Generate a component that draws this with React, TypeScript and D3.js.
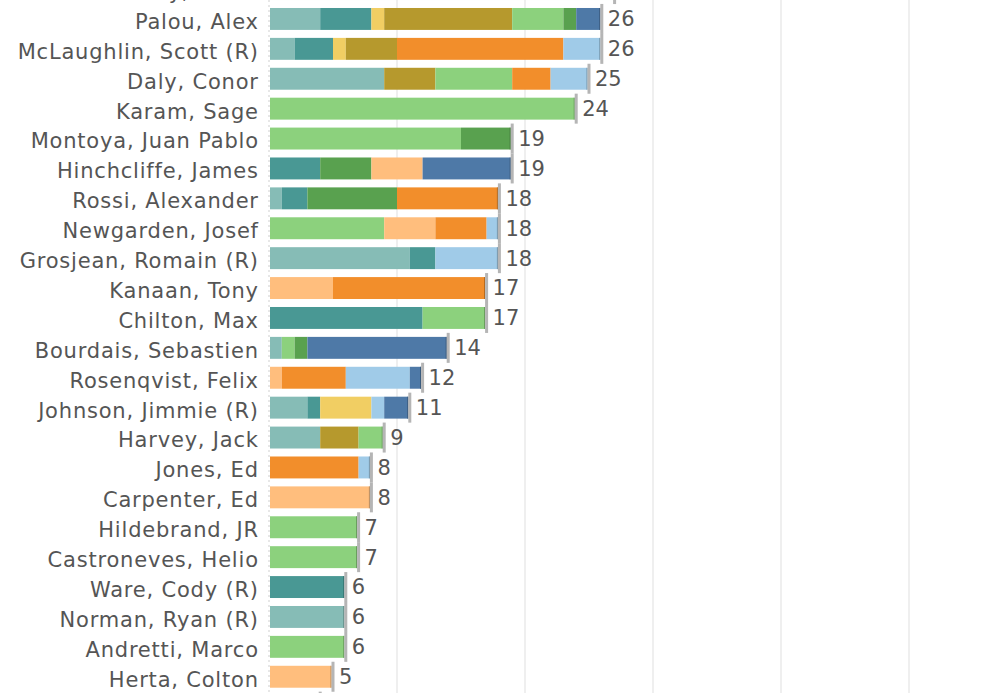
import React from "react";
import * as d3 from "d3";

const drivers = [
  "VeeKay, Rinus",
  "Palou, Alex",
  "McLaughlin, Scott (R)",
  "Daly, Conor",
  "Karam, Sage",
  "Montoya, Juan Pablo",
  "Hinchcliffe, James",
  "Rossi, Alexander",
  "Newgarden, Josef",
  "Grosjean, Romain (R)",
  "Kanaan, Tony",
  "Chilton, Max",
  "Bourdais, Sebastien",
  "Rosenqvist, Felix",
  "Johnson, Jimmie (R)",
  "Harvey, Jack",
  "Jones, Ed",
  "Carpenter, Ed",
  "Hildebrand, JR",
  "Castroneves, Helio",
  "Ware, Cody (R)",
  "Norman, Ryan (R)",
  "Andretti, Marco",
  "Herta, Colton",
  "Kellett, Dalton",
];

// one array per stacked series, aligned with drivers
const s1 = [0, 4, 2, 9, 0, 0, 0, 1, 0, 11, 0, 0, 1, 0, 3, 4, 0, 0, 0, 0, 0, 6, 0, 0, 0];
const s2 = [0, 4, 3, 0, 0, 0, 4, 2, 0, 2, 0, 12, 0, 0, 1, 0, 0, 0, 0, 0, 6, 0, 0, 0, 0];
const s3 = [0, 1, 1, 0, 0, 0, 0, 0, 0, 0, 0, 0, 0, 0, 4, 0, 0, 0, 0, 0, 0, 0, 0, 0, 0];
const s4 = [0, 10, 4, 4, 0, 0, 0, 0, 0, 0, 0, 0, 0, 0, 0, 3, 0, 0, 0, 0, 0, 0, 0, 0, 0];
const s5 = [27, 4, 0, 6, 24, 15, 0, 0, 9, 0, 0, 5, 1, 0, 0, 2, 0, 0, 7, 7, 0, 0, 6, 0, 0];
const s6 = [0, 1, 0, 0, 0, 4, 4, 7, 0, 0, 0, 0, 1, 0, 0, 0, 0, 0, 0, 0, 0, 0, 0, 0, 0];
const s7 = [0, 0, 0, 0, 0, 0, 4, 0, 4, 0, 5, 0, 0, 1, 0, 0, 0, 8, 0, 0, 0, 0, 0, 5, 4];
const s8 = [0, 0, 13, 3, 0, 0, 0, 8, 4, 0, 12, 0, 0, 5, 0, 0, 7, 0, 0, 0, 0, 0, 0, 0, 0];
const s9 = [0, 0, 3, 3, 0, 0, 0, 0, 1, 5, 0, 0, 0, 5, 1, 0, 1, 0, 0, 0, 0, 0, 0, 0, 0];
const s10 = [0, 2, 0, 0, 0, 0, 7, 0, 0, 0, 0, 0, 11, 1, 2, 0, 0, 0, 0, 0, 0, 0, 0, 0, 0];

const seriesKeys = ["s1", "s2", "s3", "s4", "s5", "s6", "s7", "s8", "s9", "s10"];
const seriesValues = [s1, s2, s3, s4, s5, s6, s7, s8, s9, s10];
const seriesColors = [
  "#86BCB6",
  "#499894",
  "#F1CE63",
  "#B6992D",
  "#8CD17D",
  "#59A14F",
  "#FFBE7D",
  "#F28E2B",
  "#A0CBE8",
  "#4E79A7",
];
const gridTicks = [10, 20, 30, 40, 50, 60];

const W = 987;
const H = 693;

export default function App() {
  const rows = drivers.map((d, i) => {
    const r: any = { driver: d };
    seriesKeys.forEach((k, j) => (r[k] = seriesValues[j][i]));
    r.total = seriesValues.reduce((a, arr) => a + arr[i], 0);
    return r;
  });

  const step = 29.9;
  const x = d3.scaleLinear().domain([0, 50]).range([269, 909]);
  const y = d3
    .scaleBand<string>()
    .domain(drivers)
    .range([-25.9, -25.9 + step * drivers.length])
    .paddingInner(8 / 30)
    .paddingOuter(4 / 30);
  const color = d3.scaleOrdinal<string, string>().domain(seriesKeys).range(seriesColors);
  const stack = d3.stack<any>().keys(seriesKeys);
  const layers = stack(rows);
  const bw = y.bandwidth();

  const lastKey = (r: any) => {
    let k = seriesKeys[0];
    seriesKeys.forEach((kk) => {
      if (r[kk] > 0) k = kk;
    });
    return k;
  };

  const fontFamily = "'DejaVu Sans', sans-serif";

  return (
    <div style={{ position: "fixed", left: 0, top: 0, width: W, height: H, background: "#fff" }}>
      <svg width={W} height={H} style={{ display: "block" }}>
        <rect width={W} height={H} fill="#fff" />
        {gridTicks.map((t) => (
          <line key={t} x1={x(t)} x2={x(t)} y1={0} y2={H} stroke="#efefef" strokeWidth={2} />
        ))}
        <line x1={x(0)} x2={x(0)} y1={0} y2={H} stroke="#cfcfcf" strokeWidth={1} strokeDasharray="2,3" />
        {layers.map((layer) => (
          <g key={layer.key} fill={color(layer.key)}>
            {layer.map((seg, i) => {
              const w = x(seg[1]) - x(seg[0]);
              if (w <= 0) return null;
              const isLast = lastKey(rows[i]) === layer.key;
              return (
                <rect
                  key={i}
                  x={x(seg[0]) + (seg[0] === 0 ? 1 : 0)}
                  y={y(rows[i].driver)}
                  width={w - (isLast ? 1.5 : 0) - (seg[0] === 0 ? 1 : 0)}
                  height={bw}
                />
              );
            })}
          </g>
        ))}
        {rows.map((r) => {
          const cy = (y(r.driver) as number) + bw / 2;
          const xe = x(r.total);
          const dark = d3.color(color(lastKey(r)))!.darker(0.9).formatHex();
          return (
            <g key={r.driver}>
              <rect x={xe - 2.5} y={y(r.driver)} width={1} height={bw} fill={dark} />
              <rect x={xe - 1.5} y={cy - 15} width={3} height={30} fill="#b5b5b5" />
              <text
                x={xe + 6}
                y={cy}
                dy="0.35em"
                fontFamily={fontFamily}
                fontSize={21}
                fill="#555"
              >
                {r.total}
              </text>
              <text
                x={258.8}
                y={cy}
                dy="0.47em"
                textAnchor="end"
                fontFamily={fontFamily}
                fontSize={21}
                letterSpacing={0.8}
                fill="#555"
              >
                {r.driver}
              </text>
            </g>
          );
        })}
      </svg>
    </div>
  );
}
